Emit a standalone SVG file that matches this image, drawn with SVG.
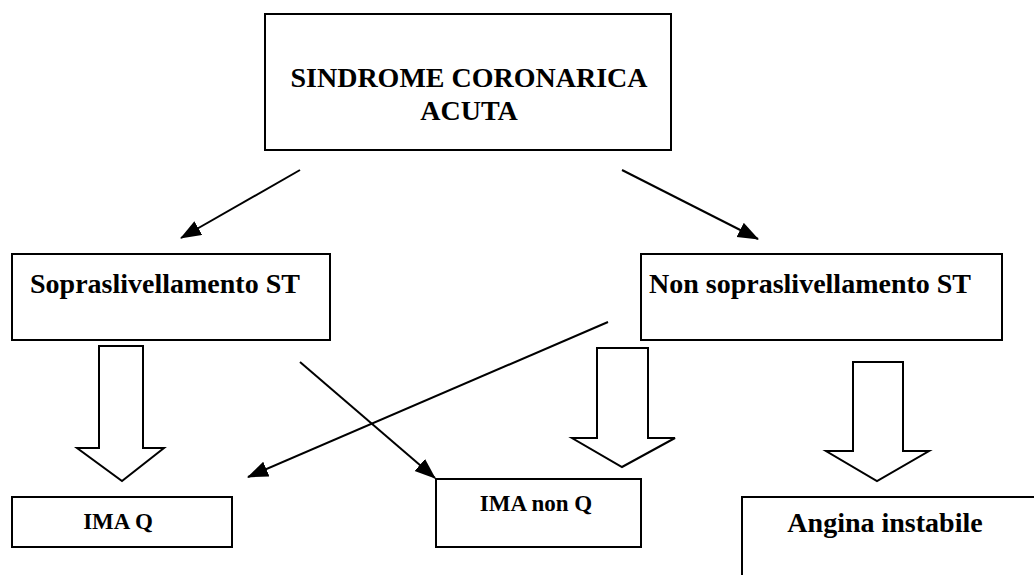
<svg xmlns="http://www.w3.org/2000/svg" width="1034" height="575" viewBox="0 0 1034 575">
<style>
.box{fill:#fff;stroke:#000;stroke-width:2}
.t{font-family:"Liberation Serif","Times New Roman",serif;font-weight:bold;fill:#000}
.big{font-size:28px}
.small{font-size:23px}
.ln{stroke:#000;stroke-width:2;fill:none;marker-end:url(#ah)}
.blk{fill:#fff;stroke:#000;stroke-width:2;stroke-linejoin:miter}
</style>
<defs>
<marker id="ah" markerUnits="userSpaceOnUse" markerWidth="22" markerHeight="18" refX="20" refY="8" orient="auto">
<path d="M0,0 L21,8 L0,16 z" fill="#000"/>
</marker>
</defs>
<rect width="1034" height="575" fill="#fff"/>
<g id="node-sca">
<rect class="box" x="265" y="14" width="406" height="136"/>
<text class="t big" x="469" y="87" text-anchor="middle">SINDROME CORONARICA</text>
<text class="t big" x="469" y="120" text-anchor="middle">ACUTA</text>
</g>
<g id="node-sopra">
<rect class="box" x="12" y="254" width="318" height="86"/>
<text class="t big" x="30" y="293">Sopraslivellamento ST</text>
</g>
<g id="node-nonsopra">
<rect class="box" x="641" y="254" width="361" height="86"/>
<text class="t big" x="649" y="293">Non sopraslivellamento ST</text>
</g>
<g id="node-imaq">
<rect class="box" x="12" y="497" width="220" height="50"/>
<text class="t small" x="118" y="529" text-anchor="middle">IMA Q</text>
</g>
<g id="node-imanonq">
<rect class="box" x="436" y="479" width="205" height="68"/>
<text class="t small" x="536" y="511" text-anchor="middle">IMA non Q</text>
</g>
<g id="node-angina">
<path class="box" d="M742,590 L742,497 L1040,497"/>
<text class="t big" x="885" y="532" text-anchor="middle">Angina instabile</text>
</g>
<g id="connectors">
<line class="ln" x1="300" y1="170" x2="181" y2="238"/>
<line class="ln" x1="622" y1="170" x2="758" y2="239"/>
<line class="ln" x1="300" y1="362" x2="435" y2="478"/>
<line class="ln" x1="608" y1="322" x2="248" y2="477"/>
<polygon class="blk" points="99,346 143,346 143,448 164,448 122,481 77,448 99,448"/>
<polygon class="blk" points="597,348 648,348 648,438 675,438 622,467 572,438 597,438"/>
<polygon class="blk" points="853,362 903,362 903,451 929,451 877,481 826,451 853,451"/>
</g>
</svg>
